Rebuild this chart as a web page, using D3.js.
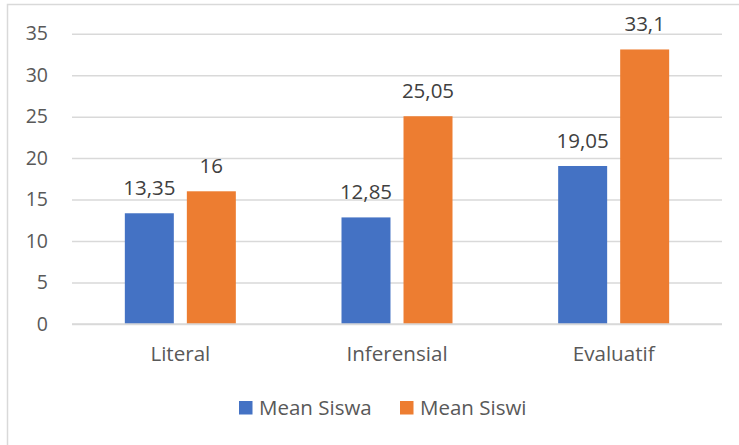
<!DOCTYPE html>
<html>
<head>
<meta charset="utf-8">
<script src="https://cdn.jsdelivr.net/npm/d3@7"></script>
<style>
  html, body { margin: 0; padding: 0; background: #fff; }
  svg { display: block; font-family: "Open Sans", "Noto Sans", sans-serif; }
</style>
</head>
<body>
<svg id="chart" width="739" height="445"></svg>
<script>
// Mean scores per comprehension level
const categories = ["Literal", "Inferensial", "Evaluatif"];
const seriesNames = ["Mean Siswa", "Mean Siswi"];
const meanSiswa = [13.35, 12.85, 19.05];
const meanSiswi = [16, 25.05, 33.1];
const yTicks = [0, 5, 10, 15, 20, 25, 30, 35];
const seriesColors = ["#4472C4", "#ED7D31"];

const svg = d3.select("#chart");
const W = 739, H = 445;
const plot = { left: 72, right: 722, top: 33.7, bottom: 324 };

// Chart area frame (extends past the right and bottom edges)
svg.append("rect")
  .attr("x", 7.5).attr("y", 4.5)
  .attr("width", W + 20).attr("height", H + 20)
  .attr("fill", "none").attr("stroke", "#D9D9D9").attr("stroke-width", 1.5);

const x0 = d3.scaleBand().domain(categories).range([plot.left, plot.right]).paddingInner(0).paddingOuter(0);
// Bar pair sits centred in each category band
const groupW = 111;
const bw0 = x0.bandwidth();
const x1 = d3.scaleBand().domain(seriesNames)
  .range([(bw0 - groupW) / 2, (bw0 + groupW) / 2]).paddingInner(0.21).paddingOuter(0);
const y = d3.scaleLinear().domain([0, 35]).range([plot.bottom, plot.top]);

// Horizontal gridlines + left tick labels
const yAxis = d3.axisLeft(y).tickValues(yTicks).tickSize(-(plot.right - plot.left)).tickPadding(24).tickFormat(d3.format("d"));
const gy = svg.append("g").attr("transform", `translate(${plot.left},0)`).call(yAxis);
gy.select(".domain").remove();
gy.selectAll(".tick line").attr("stroke", "#D9D9D9").attr("stroke-width", 1.5);
gy.selectAll(".tick text").attr("fill", "#595959").style("font-size", "19.5px").style("font-family", "'Open Sans', sans-serif");

// Category labels
const xAxis = d3.axisBottom(x0).tickSize(0).tickPadding(22);
const gx = svg.append("g").attr("transform", `translate(0,${plot.bottom})`).call(xAxis);
gx.select(".domain").remove();
gx.selectAll(".tick text").attr("fill", "#595959").style("font-size", "20.6px").style("font-family", "'Open Sans', sans-serif");

const rows = categories.map((c, i) => ({ cat: c, vals: [meanSiswa[i], meanSiswi[i]] }));
const fmt = v => String(v).replace(".", ",");

const groups = svg.append("g").selectAll("g").data(rows).join("g")
  .attr("transform", d => `translate(${x0(d.cat)},0)`);

groups.selectAll("rect").data(d => d.vals.map((v, k) => ({ v, k })))
  .join("rect")
  .attr("x", d => x1(seriesNames[d.k]))
  .attr("width", x1.bandwidth())
  .attr("y", d => y(d.v))
  .attr("height", d => y(0) - y(d.v))
  .attr("fill", d => seriesColors[d.k]);

groups.selectAll("text.val").data(d => d.vals.map((v, k) => ({ v, k })))
  .join("text").attr("class", "val")
  .attr("x", d => x1(seriesNames[d.k]) + x1.bandwidth() / 2)
  .attr("y", d => y(d.v) - 18)
  .attr("text-anchor", "middle")
  .attr("fill", "#404040")
  .style("font-size", "20.5px")
  .text(d => fmt(d.v));

// Redraw the baseline over the bars
svg.append("line")
  .attr("x1", plot.left).attr("x2", plot.right)
  .attr("y1", y(0)).attr("y2", y(0))
  .attr("stroke", "#D9D9D9").attr("stroke-width", 1.5);

// Legend
const legend = svg.append("g");
const legendX = [239, 400];
seriesNames.forEach((name, k) => {
  legend.append("rect")
    .attr("x", legendX[k]).attr("y", 401)
    .attr("width", 13.5).attr("height", 13.5)
    .attr("fill", seriesColors[k]);
  legend.append("text")
    .attr("x", legendX[k] + 20).attr("y", 414.5)
    .attr("fill", "#595959")
    .style("font-size", "20.5px")
    .text(name);
});
</script>
</body>
</html>
